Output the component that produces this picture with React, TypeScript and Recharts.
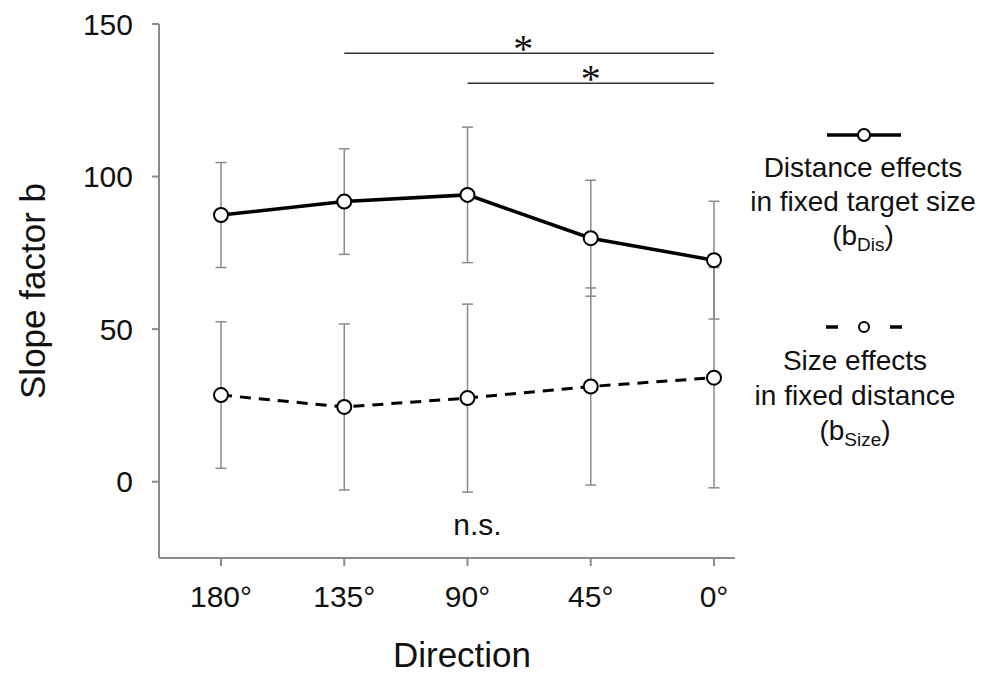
import React from "react";
import {
  LineChart, Line, XAxis, YAxis, ErrorBar, ReferenceLine, ReferenceDot, Legend, Label,
} from "recharts";

// values
const directions = ["180°", "135°", "90°", "45°", "0°"];
const distanceB = [87.4, 91.8, 94.0, 79.8, 72.6];
const distanceErr = [17.2, 17.3, 22.2, 19.0, 19.3];
const sizeB = [28.4, 24.5, 27.4, 31.2, 34.1];
const sizeErr = [24.0, 27.2, 30.8, 32.3, 36.1];
const yTicks = [0, 50, 100, 150];

// significance brackets: [from, to, level]
const sigBrackets: [string, string, number][] = [
  ["135°", "0°", 140.4],
  ["90°", "0°", 130.6],
];
const nsAt = { x: "90°", y: -14 };

const FONT = "'Liberation Sans', Arial, sans-serif";
const AXIS = "#8a8a8a";
const INK = "#111";

const data = directions.map((d, i) => ({
  direction: d,
  distance: distanceB[i],
  distanceErr: distanceErr[i],
  size: sizeB[i],
  sizeErr: sizeErr[i],
}));

function LegendBox() {
  // legend drawn as its own little svg, placed right of the plot
  return (
    <svg width={256} height={360} style={{ display: "block", fontFamily: FONT }}>
      <line x1={92} y1={35} x2={166} y2={35} stroke="#000" strokeWidth={3.5} />
      <circle cx={129} cy={35} r={6} fill="#fff" stroke="#000" strokeWidth={2} />
      <text x={128} y={77} textAnchor="middle" fontSize={28} fill={INK}>Distance effects</text>
      <text x={128} y={111} textAnchor="middle" fontSize={28} fill={INK}>in fixed target size</text>
      <text x={128} y={145} textAnchor="middle" fontSize={28} fill={INK}>
        (b<tspan fontSize={19} dy={6}>Dis</tspan><tspan dy={-6}>)</tspan>
      </text>

      <line x1={91} y1={227} x2={103} y2={227} stroke="#000" strokeWidth={3.5} />
      <line x1={155} y1={227} x2={167} y2={227} stroke="#000" strokeWidth={3.5} />
      <circle cx={129} cy={227} r={5} fill="#fff" stroke="#000" strokeWidth={2} />
      <text x={120} y={270} textAnchor="middle" fontSize={28} fill={INK}>Size effects</text>
      <text x={120} y={305} textAnchor="middle" fontSize={28} fill={INK}>in fixed distance</text>
      <text x={120} y={340} textAnchor="middle" fontSize={28} fill={INK}>
        (b<tspan fontSize={19} dy={6}>Size</tspan><tspan dy={-6}>)</tspan>
      </text>
    </svg>
  );
}

export default function App() {
  return (
    <div style={{ position: "absolute", left: 0, top: 0, background: "#fff", fontFamily: FONT }}>
      <LineChart width={993} height={673} data={data} margin={{ top: 24, right: 258, bottom: 0, left: 0 }}>
        <XAxis
          dataKey="direction"
          type="category"
          padding={{ left: 62, right: 21 }}
          height={115}
          axisLine={{ stroke: AXIS, strokeWidth: 2 }}
          tickLine={{ stroke: AXIS, strokeWidth: 2 }}
          tickSize={8}
          tickMargin={20}
          tick={{ fontSize: 30, fill: INK, fontFamily: FONT }}
        >
          <Label value="Direction" position="insideBottom" offset={6} dx={15} fontSize={35} fill={INK} fontFamily={FONT} />
        </XAxis>
        <YAxis
          type="number"
          domain={[-25, 150]}
          ticks={yTicks}
          width={159}
          axisLine={{ stroke: AXIS, strokeWidth: 2 }}
          tickLine={{ stroke: AXIS, strokeWidth: 2 }}
          tickSize={7}
          tickMargin={19}
          tick={{ fontSize: 30, fill: INK, fontFamily: FONT }}
        >
          <Label
            value="Slope factor b"
            angle={-90}
            position="insideLeft"
            offset={33}
            fontSize={35}
            fill={INK}
            fontFamily={FONT}
            style={{ textAnchor: "middle" }}
          />
        </YAxis>

        {sigBrackets.map(([from, to, level], i) => (
          <ReferenceLine
            key={i}
            segment={[{ x: from, y: level }, { x: to, y: level }]}
            stroke="#333"
            strokeWidth={1.5}
            label={{ value: "*", position: "top", offset: -9, dx: i === 0 ? -6 : 0, fontSize: 40, fill: INK, fontFamily: "'Liberation Serif', serif" }}
          />
        ))}

        <Line
          dataKey="distance"
          type="linear"
          stroke="#000"
          strokeWidth={3.5}
          dot={{ r: 7, fill: "#fff", stroke: "#000", strokeWidth: 2 }}
          activeDot={false}
          isAnimationActive={false}
        >
          <ErrorBar dataKey="distanceErr" direction="y" width={5.5} stroke={AXIS} strokeWidth={1.5} />
        </Line>
        <Line
          dataKey="size"
          type="linear"
          stroke="#000"
          strokeWidth={3}
          strokeDasharray="11 8"
          dot={{ r: 7, fill: "#fff", stroke: "#000", strokeWidth: 2, strokeDasharray: "none" }}
          activeDot={false}
          isAnimationActive={false}
        >
          <ErrorBar dataKey="sizeErr" direction="y" width={5.5} stroke={AXIS} strokeWidth={1.5} />
        </Line>

        <ReferenceDot
          x={nsAt.x}
          y={nsAt.y}
          r={1}
          fill="none"
          stroke="none"
          label={{ value: "n.s.", position: "center", dx: 10, fontSize: 30, fill: INK, fontFamily: FONT }}
        />

        <Legend
          layout="horizontal"
          align="center"
          verticalAlign="middle"
          content={() => <LegendBox />}
          wrapperStyle={{ left: 735, top: 100, width: 256, height: 360 }}
        />
      </LineChart>
    </div>
  );
}
